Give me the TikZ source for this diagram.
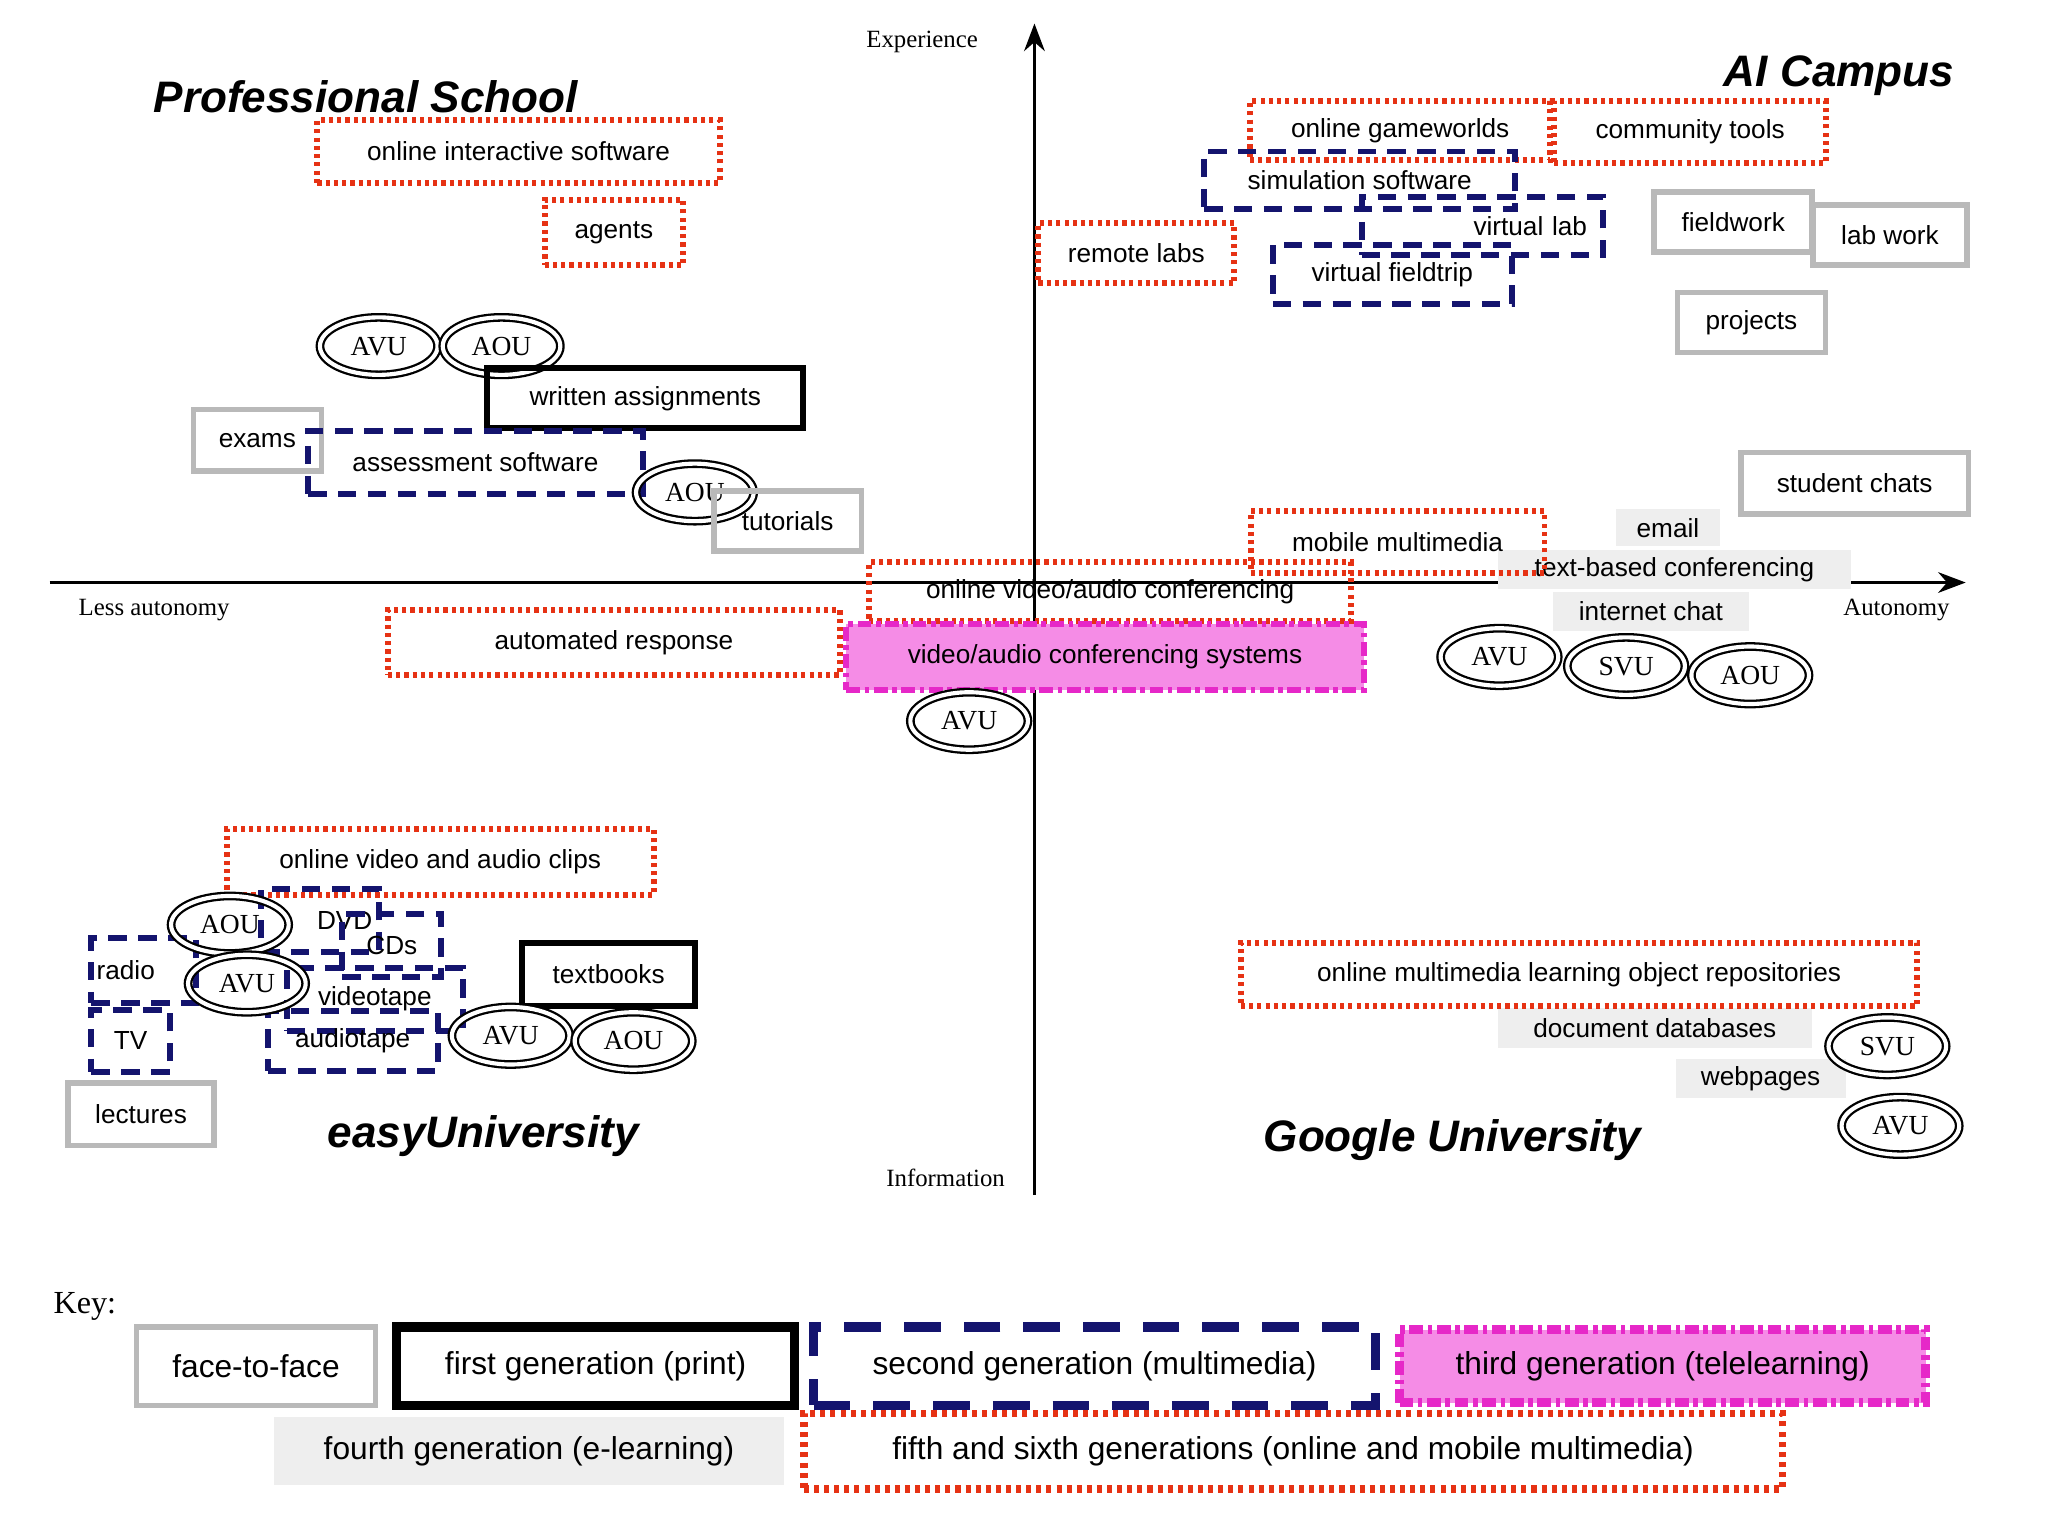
\documentclass[tikz,border=0pt]{standalone}
\usepackage{fontspec}
\setmainfont{Liberation Sans}
\newfontfamily\serifx{Liberation Serif}
\usetikzlibrary{shapes.geometric,arrows.meta}
\definecolor{navy}{RGB}{20,20,110}
\definecolor{redd}{RGB}{230,50,20}
\definecolor{mag}{RGB}{230,40,200}
\definecolor{pinkf}{RGB}{245,140,230}
\tikzset{
 base/.style={inner sep=0pt,font=\fontsize{5.7}{7}\selectfont},
 ff/.style={base,draw=gray!55,line width=1.2pt},
 first/.style={base,draw=black,line width=1.3pt},
 second/.style={base,draw=navy,line width=1.3pt,dash pattern=on 4pt off 2.5pt},
 third/.style={base,draw=mag,fill=pinkf,line width=1.3pt,dash pattern=on 3pt off 1pt on 1pt off 1pt},
 fourth/.style={base,fill=gray!13},
 fifth/.style={base,draw=redd,line width=1.3pt,dash pattern=on 0.9pt off 0.9pt},
 oval/.style={ellipse,draw,double,double distance=0.9pt,line width=0.5pt,inner sep=0pt,minimum width=0.9cm,minimum height=0.44cm,font=\serifx\fontsize{6}{7}\selectfont},
 ttl/.style={font=\bfseries\itshape\fontsize{9.6}{10}\selectfont},
 ax/.style={font=\serifx\fontsize{5.4}{6}\selectfont},
 key/.style={font=\fontsize{6.9}{8}\selectfont}
}
\newcommand\bx[7]{\node[#1,minimum width=#5*0.01cm,minimum height=#6*0.01cm] (#2) at (#3,#4) {#7};}
\begin{document}
\begin{tikzpicture}[x=0.01cm,y=-0.01cm]
\fill[white] (0,0) rectangle (1568,1176);
\useasboundingbox (0,0) rectangle (1568,1176);
% axes
\coordinate (vb) at (792,915); \coordinate (vt) at (792,18);
\coordinate (hl) at (38,446); \coordinate (hr) at (1505,446);
\draw[line width=0.7pt,-{Stealth[length=6pt]}] (vb) -- (vt);
\draw[line width=0.7pt,-{Stealth[length=6pt]}] (hl) -- (hr);
\node[ax] (exp) at (706,32) {Experience};
\node[ax] (less) at (118,467) {Less autonomy};
\node[ax] (aut) at (1452,467) {Autonomy};
\node[ax] (inf) at (724,902) {Information};
\node[ttl] (t1) at (280,74) {Professional School};
\node[ttl] (t2) at (1408,58) {AI Campus};
\node[ttl] (t3) at (370,870) {easyUniversity};
\node[ttl] (t4) at (1112,873) {Google University};
% fourth gen
\bx{fourth}{email}{1277}{404}{80}{28}{email}
\bx{fourth}{tbc}{1282}{436}{270}{30}{text-based conferencing}
\bx{fourth}{ichat}{1264}{468}{150}{30}{internet chat}
\bx{fourth}{docdb}{1267}{787}{240}{30}{document databases}
\bx{fourth}{web}{1348}{826}{130}{30}{webpages}
% top-left
\bx{fifth}{ois}{397}{116}{308}{48}{online interactive software}
\bx{fifth}{agents}{470}{178}{106}{50}{agents}
\node[oval] (o1) at (290,265) {AVU};
\node[oval] (o2) at (384,265) {AOU};
\bx{first}{wa}{494}{305}{242}{46}{written assignments}
\bx{ff}{exams}{197}{337}{98}{47}{exams}
\bx{second}{as}{364}{354}{256}{48}{assessment software}
\node[oval] (o3) at (532,377) {AOU};
\bx{ff}{tut}{603}{399}{113}{46}{tutorials}
% top-right
\bx{fifth}{ogw}{1072}{100}{230}{45}{online gameworlds}
\bx{fifth}{ct}{1294}{101}{208}{47}{community tools}
\bx{second}{sim}{1041}{138}{238}{44}{simulation software}
\bx{second,text width=1.6cm,align=right}{vl}{1135}{173}{185}{45}{virtual lab}
\bx{fifth}{rl}{870}{194}{150}{46}{remote labs}
\bx{second}{vf}{1066}{210}{183}{45}{virtual fieldtrip}
\bx{ff}{fw}{1327}{170}{121}{46}{fieldwork}
\bx{ff}{lw}{1447}{180}{118}{46}{lab work}
\bx{ff}{proj}{1341}{247}{113}{46}{projects}
\bx{ff}{sc}{1420}{370}{174}{47}{student chats}
\bx{fifth}{mm}{1070}{415}{225}{47}{mobile multimedia}
\node[oval] (o4) at (1148,503) {AVU};
\node[oval] (o5) at (1245,510) {SVU};
\node[oval] (o6) at (1340,517) {AOU};
% center
\bx{fifth}{ovac}{850}{453}{369}{45}{online video/audio conferencing}
\bx{fifth}{ar}{470}{492}{346}{50}{automated response}
\bx{third}{vacs}{846}{503}{396}{50}{video/audio conferencing systems}
\node[oval] (o7) at (742,552) {AVU};
% bottom-left
\bx{fifth}{ovc}{337}{660}{327}{50}{online video and audio clips}
\bx{second,text width=0.8cm,align=right}{dvd}{245}{705}{90}{48}{DVD}
\bx{second}{cds}{300}{724}{76}{48}{CDs}
\bx{second,text width=0.72cm,align=left}{radio}{110}{743}{80}{50}{radio}
\bx{second}{vt}{287}{765}{135}{48}{videotape}
\bx{second}{tv}{100}{797}{60}{48}{TV}
\bx{second}{at}{270}{797}{130}{46}{audiotape}
\node[oval] (o8) at (176,708) {AOU};
\node[oval] (o9) at (189,753) {AVU};
\bx{first}{tb}{466}{746}{132}{48}{textbooks}
\node[oval] (o10) at (391,793) {AVU};
\node[oval] (o11) at (485,797) {AOU};
\bx{ff}{lect}{108}{853}{112}{48}{lectures}
% bottom-right
\bx{fifth}{omlor}{1209}{746}{518}{48}{online multimedia learning object repositories}
\node[oval] (o12) at (1445,801) {SVU};
\node[oval] (o13) at (1455,862) {AVU};
% key
\node[font=\serifx\fontsize{7}{8}\selectfont] (keyl) at (65,1000) {Key:};
\bx{ff,key}{k1}{196}{1046}{183}{60}{face-to-face}
\bx{first,key,line width=2pt}{k2}{456}{1046}{305}{60}{first generation (print)}
\bx{second,key,line width=2pt,dash pattern=on 8pt off 5pt}{k3}{838}{1046}{430}{60}{second generation (multimedia)}
\bx{third,key,line width=2pt}{k4}{1273}{1046}{403}{56}{third generation (telelearning)}
\bx{fourth,key}{k5}{405}{1111}{390}{52}{fourth generation (e-learning)}
\bx{fifth,key,line width=1.6pt,dash pattern=on 1.1pt off 1.1pt}{k6}{990}{1111}{749}{58}{fifth and sixth generations (online and mobile multimedia)}
\end{tikzpicture}
\end{document}
